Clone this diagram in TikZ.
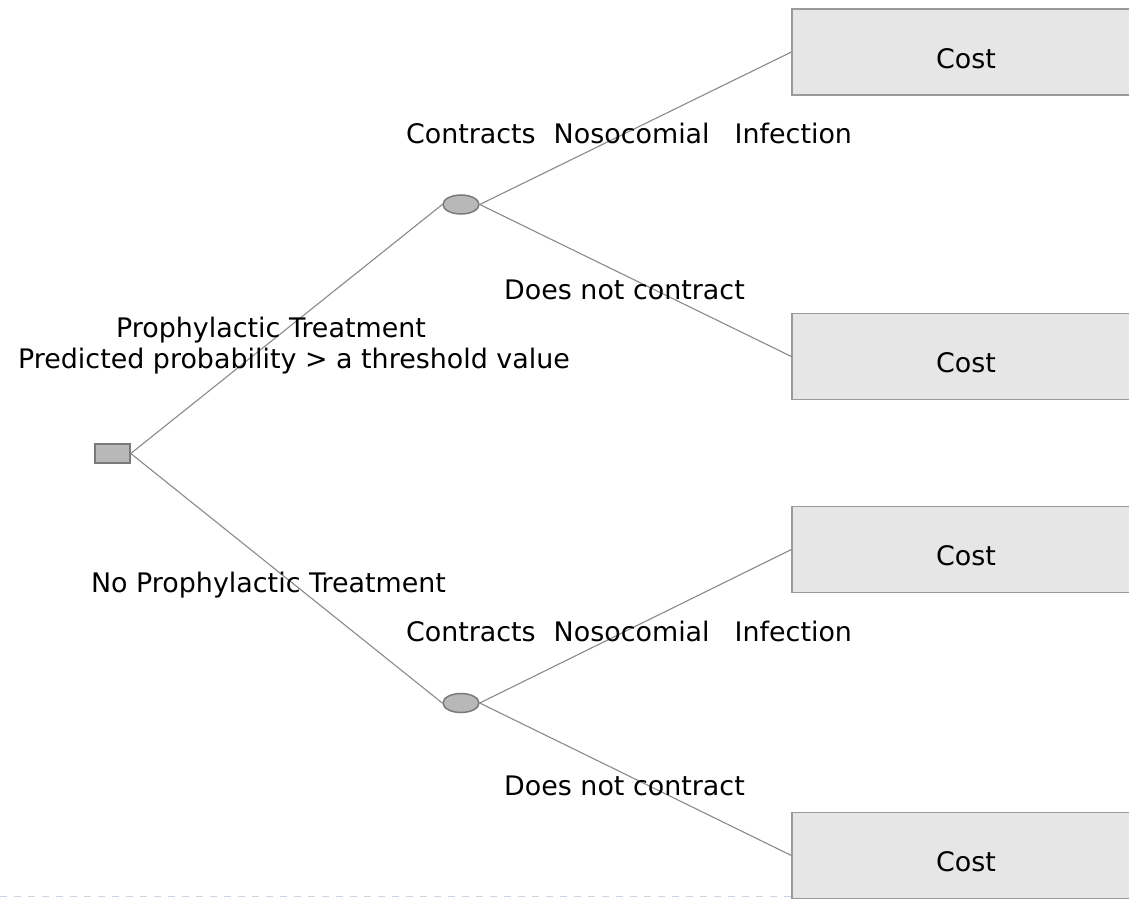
\documentclass[tikz,border=0pt]{standalone}
\usepackage{fontspec}
\setmainfont{DejaVu Sans}
\usetikzlibrary{shapes.geometric}
\definecolor{edgegray}{HTML}{8A8A8A}
\definecolor{nodegray}{HTML}{B8B8B8}
\definecolor{nodeline}{HTML}{7A7A7A}
\definecolor{costfill}{HTML}{E6E6E6}
\definecolor{costline}{HTML}{9A9A9A}
\definecolor{rulecol}{HTML}{CCD6E2}
\begin{document}
\begin{tikzpicture}[x=1pt,y=-1pt,
  lbl/.style={font=\fontsize{26.9}{31}\selectfont, anchor=base, inner sep=0pt},
  decision/.style={rectangle, draw=nodeline, fill=nodegray, line width=1.5pt,
    minimum width=35pt, minimum height=19pt, inner sep=0pt},
  chance/.style={ellipse, draw=nodeline, fill=nodegray, line width=1.5pt,
    minimum width=36pt, minimum height=19pt, inner sep=0pt},
  costbox/.style={rectangle, draw=costline, fill=costfill, line width=1.2pt,
    minimum width=348pt, minimum height=86pt, inner sep=0pt,
    text height=40pt, text depth=8pt, font=\fontsize{26.9}{31}\selectfont},
  branch/.style={draw=edgegray, line width=1.1pt}]
\clip (0,0) rectangle (1129,898);
\fill[white] (0,0) rectangle (1129,898);

% nodes of the tree
\node[decision] (root) at (112.5,453.5) {};
\node[chance] (c1) at (461,204.5) {};
\node[chance] (c2) at (461,703) {};
\node[costbox] (o1) at (966,52) {Cost};
\node[costbox] (o2) at (966,356.5) {Cost};
\node[costbox] (o3) at (966,549.5) {Cost};
\node[costbox] (o4) at (966,855.5) {Cost};

% branches
\draw[branch] (root.east) -- (c1.west);
\draw[branch] (root.east) -- (c2.west);
\draw[branch] (c1.east) -- (o1.west);
\draw[branch] (c1.east) -- (o2.west);
\draw[branch] (c2.east) -- (o3.west);
\draw[branch] (c2.east) -- (o4.west);

% branch labels
\node[lbl] (t1a) at (271,337) {Prophylactic Treatment};
\node[lbl] (t1b) at (294,368) {Predicted probability > a threshold value};
\node[lbl] (t2) at (268.5,592) {No Prophylactic Treatment};
\node[lbl] (e1) at (629,143) {Contracts\hspace{18pt}Nosocomial\hspace{25pt}Infection};
\node[lbl] (n1) at (624.5,299) {Does not contract};
\node[lbl] (e2) at (629,641.5) {Contracts\hspace{18pt}Nosocomial\hspace{25pt}Infection};
\node[lbl] (n2) at (624.5,795) {Does not contract};

% dashed rule along the lower edge
\coordinate (r0) at (0,896.5);
\coordinate (r1) at (792,896.5);
\draw[rulecol, line width=1.5pt, dash pattern=on 7pt off 7pt] (r0) -- (r1);
\end{tikzpicture}
\end{document}
